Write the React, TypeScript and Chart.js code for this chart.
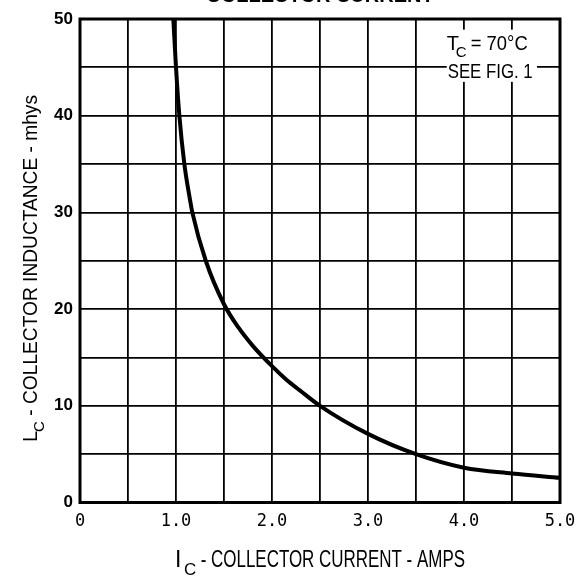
import React, { useEffect, useRef } from 'react';
import { Chart, registerables } from 'chart.js';

Chart.register(...registerables);

// Collector current (A) and collector inductance (mhys)
const currentAmps = [0.972, 1.0, 1.035, 1.087, 1.146, 1.17, 1.31, 1.5, 1.65, 1.8, 2.0, 2.15, 2.29, 2.5, 3.0, 3.5, 4.0, 4.5, 5.0];
const inductanceMhys = [50, 45, 40, 35, 31.3, 30, 25, 20.5, 18.1, 16.2, 14.1, 12.7, 11.6, 10.0, 7.1, 5.0, 3.6, 3.0, 2.55];

const xMin = 0;
const xMax = 5;
const xStep = 0.5;
const yMin = 0;
const yMax = 50;
const yStep = 5;

const titleText = 'COLLECTOR CURRENT';
const xTitleMain = 'I';
const xTitleSub = 'C';
const xTitleRest = ' - COLLECTOR CURRENT - AMPS';
const yTitleMain = 'L';
const yTitleSub = 'C';
const yTitleRest = ' - COLLECTOR INDUCTANCE - mhys';
const noteLine1Main = 'T';
const noteLine1Sub = 'C';
const noteLine1Rest = ' = 70°C';
const noteLine2 = 'SEE FIG. 1';

const FONT = '"Liberation Sans", Arial, sans-serif';

const decorPlugin = {
  id: 'decor',
  afterDraw(chart: any) {
    const ctx: CanvasRenderingContext2D = chart.ctx;
    const a = chart.chartArea;
    const xs = chart.scales.x;
    const ys = chart.scales.y;
    ctx.save();

    // annotation box (white, hides grid)
    const bx0 = xs.getPixelForValue(3.82);
    const bx1 = xs.getPixelForValue(4.76);
    const by0 = ys.getPixelForValue(48.9);
    const by1 = ys.getPixelForValue(43.5);
    ctx.fillStyle = '#fff';
    ctx.fillRect(bx0, by0, bx1 - bx0, by1 - by0);

    ctx.fillStyle = '#000';
    ctx.textAlign = 'left';
    ctx.textBaseline = 'alphabetic';
    const tx = xs.getPixelForValue(3.83);
    const l1 = ys.getPixelForValue(46.8);
    const l2 = ys.getPixelForValue(43.9);
    ctx.font = `20px ${FONT}`;
    ctx.fillText(noteLine1Main, tx - 1, l1);
    ctx.font = `15px ${FONT}`;
    ctx.fillText(noteLine1Sub, tx + 8, l1 + 7);
    ctx.font = `20px ${FONT}`;
    ctx.fillText(noteLine1Rest, tx + 18, l1, 62);
    ctx.fillText(noteLine2, tx, l2, 85);

    // frame
    ctx.strokeStyle = '#000';
    ctx.lineWidth = 3;
    ctx.strokeRect(a.left, a.top, a.right - a.left, a.bottom - a.top);

    // top title (cut off by the page edge)
    ctx.textAlign = 'center';
    ctx.font = `bold 20px ${FONT}`;
    ctx.fillText(titleText, (a.left + a.right) / 2, 1.5, 235);

    // x-axis title
    ctx.textAlign = 'left';
    ctx.font = `23px ${FONT}`;
    ctx.fillText(xTitleMain, 175, 567);
    ctx.font = `17px ${FONT}`;
    ctx.fillText(xTitleSub, 184, 575);
    ctx.font = `23px ${FONT}`;
    ctx.fillText(xTitleRest, 196, 567, 269);

    // y-axis title (rotated)
    ctx.translate(37, 442);
    ctx.rotate(-Math.PI / 2);
    ctx.font = `20px ${FONT}`;
    ctx.fillText(yTitleMain, 0, 0);
    ctx.font = `15px ${FONT}`;
    ctx.fillText(yTitleSub, 10, 7);
    ctx.font = `20px ${FONT}`;
    ctx.fillText(yTitleRest, 21, 0, 326);

    ctx.restore();
  },
};

export default function App() {
  const ref = useRef<HTMLCanvasElement | null>(null);

  useEffect(() => {
    if (!ref.current) return;
    const points = currentAmps.map((x, i) => ({ x, y: inductanceMhys[i] }));
    const chart = new Chart(ref.current, {
      type: 'line',
      data: {
        datasets: [
          {
            data: points,
            borderColor: '#000',
            borderWidth: 4,
            pointRadius: 0,
            cubicInterpolationMode: 'monotone',
            fill: false,
          },
        ],
      },
      options: {
        animation: false,
        responsive: false,
        events: [],
        layout: { padding: { left: 0, top: 19, right: 18, bottom: 0 } },
        plugins: { legend: { display: false }, tooltip: { enabled: false }, title: { display: false } },
        scales: {
          x: {
            type: 'linear',
            min: xMin,
            max: xMax,
            border: { display: false },
            grid: { color: '#000', lineWidth: 1.8, drawTicks: false },
            ticks: {
              stepSize: xStep,
              autoSkip: false,
              maxRotation: 0,
              padding: 9,
              color: '#000',
              font: { family: '"DejaVu Sans Mono", monospace', size: 17 },
              callback: (v: any) => {
                const n = Number(v);
                if (Math.abs(n) < 1e-9) return '0';
                if (Math.abs(n - Math.round(n)) < 1e-9) return n.toFixed(1);
                return '';
              },
            },
            afterFit: (s: any) => {
              s.height = 73.5;
              s.paddingLeft = 0;
              s.paddingRight = 0;
            },
          },
          y: {
            type: 'linear',
            min: yMin,
            max: yMax,
            border: { display: false },
            grid: { color: '#000', lineWidth: 1.8, drawTicks: false },
            ticks: {
              stepSize: yStep,
              autoSkip: false,
              padding: 7,
              color: '#000',
              font: { family: FONT, size: 17, weight: 'bold' },
              callback: (v: any) => {
                const n = Number(v);
                return Math.abs(n % 10) < 1e-9 ? String(n) : '';
              },
            },
            afterFit: (s: any) => {
              s.width = 80;
              s.paddingTop = 0;
              s.paddingBottom = 0;
            },
          },
        },
      },
      plugins: [decorPlugin],
    });
    return () => chart.destroy();
  }, []);

  return (
    <div style={{ position: 'fixed', left: 0, top: 0, width: 578, height: 576, background: '#fff' }}>
      <canvas ref={ref} width={578} height={576} style={{ display: 'block' }} />
    </div>
  );
}
